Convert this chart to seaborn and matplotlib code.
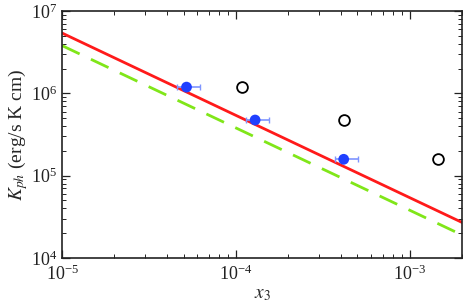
import matplotlib
matplotlib.use("Agg")
import matplotlib.pyplot as plt
import seaborn as sns
import pandas as pd

# fitted lines (end points)
linha_x = [1e-5, 2e-3]
linha_vermelha = [5.4e6, 2.7e4]
linha_verde = [3.8e6, 1.9e4]

# measured points with horizontal error bars
medido_x = [5.2e-5, 1.29e-4, 4.17e-4]
medido_k = [1.19e6, 4.74e5, 1.58e5]
erro_x_baixo = [6e-6, 1.4e-5, 4.7e-5]
erro_x_alto = [1e-5, 2.6e-5, 8.8e-5]

# open circles
aberto_x = [1.08e-4, 4.17e-4, 1.45e-3]
aberto_k = [1.19e6, 4.74e5, 1.58e5]

sns.set_theme(style="ticks")
plt.rcParams['font.family'] = ['Liberation Serif', 'DejaVu Serif']
plt.rcParams['mathtext.fontset'] = 'stix'

fig, ax = plt.subplots(figsize=(4.63, 3.06), dpi=100)
fig.subplots_adjust(left=0.134, right=0.998, top=0.964, bottom=0.157)

df_linhas = pd.DataFrame({'x': linha_x, 'vermelha': linha_vermelha, 'verde': linha_verde})
sns.lineplot(data=df_linhas, x='x', y='vermelha', color='#ff1a1a', lw=2.0, ax=ax)
sns.lineplot(data=df_linhas, x='x', y='verde', color='#80e619', lw=2.0, ax=ax, dashes=False)
ax.lines[-1].set_dashes([7, 4.5])

ax.errorbar(medido_x, medido_k, xerr=[erro_x_baixo, erro_x_alto], fmt='none',
            ecolor='#7f95ff', elinewidth=1.2, capsize=2.5, capthick=1.0, zorder=3)
df_med = pd.DataFrame({'x': medido_x, 'k': medido_k})
sns.scatterplot(data=df_med, x='x', y='k', color='#2040ff', s=60, edgecolor='none', ax=ax, zorder=4)
df_ab = pd.DataFrame({'x': aberto_x, 'k': aberto_k})
sns.scatterplot(data=df_ab, x='x', y='k', facecolor='white', edgecolor='black', linewidth=1.3,
                s=60, ax=ax, zorder=4)

ax.set_xscale('log'); ax.set_yscale('log')
ax.set_xlim(1e-5, 2e-3); ax.set_ylim(1e4, 1e7)
ax.tick_params(which='both', direction='in', top=True, right=True, labelsize=13, colors='#222222')
ax.tick_params(axis='x', which='major', pad=5)
ax.tick_params(which='major', length=6, width=0.9)
ax.tick_params(which='minor', length=3, width=0.7)
for s in ax.spines.values():
    s.set_linewidth(1.2); s.set_color('#222222')
ax.set_xlabel(r'$x_3$', fontsize=14, labelpad=1)
ax.set_ylabel(r'$K_{ph}$ (erg/s K cm)', fontsize=14, labelpad=1)
plt.savefig('out.png', dpi=100)
